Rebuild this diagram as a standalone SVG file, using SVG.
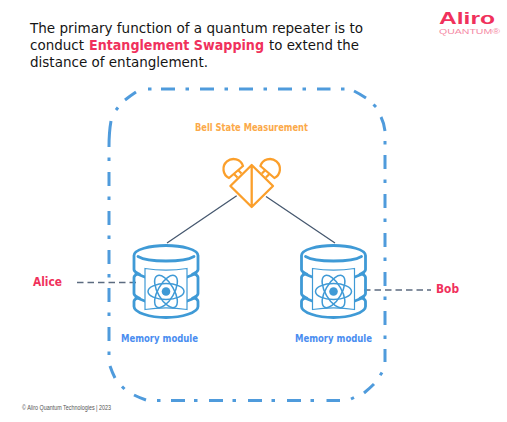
<svg xmlns="http://www.w3.org/2000/svg" width="507" height="422" viewBox="0 0 507 422">
<style>
text{font-family:"DejaVu Sans","Liberation Sans",sans-serif}
.t{font-size:14.400px;fill:#151515}
.s{font-weight:700;fill:#f0315c;font-size:13.300px}
.b{font-weight:700;font-size:10px}
.blue{fill:#4a8df0}
.mem{fill:none;stroke:#3f9ad6;stroke-width:2.800;stroke-linecap:round}
.atom{fill:none;stroke:#3f9ad6;stroke-width:1.500}
.or{fill:none;stroke:#fb9f2b;stroke-width:2.300;stroke-linejoin:round}
.dash{fill:none;stroke:#5c6b80;stroke-width:1.500;stroke-dasharray:6.500 4}
.ln{fill:none;stroke:#46586f;stroke-width:1.300}
.name{font-size:11.500px;font-weight:700;fill:#f0315c}
</style>
<defs>
<g id="db">
<path class="mem" d="M-32-26C-32-32-16-36 0-36S32-32 32-26V-12C32-10 30-9 28-8C30-7 32-6 32-4V12C32 14 30 15 28 16C30 17 32 18 32 20V25C32 31 16 36 0 36S-32 31-32 25V20C-32 18-30 17-28 16C-30 15-32 14-32 12V-4C-32-6-30-7-28-8C-30-9-32-10-32-12Z"/>
<path class="mem" d="M-28-25C-18-19 18-19 28-25"/>
<path class="mem" d="M-30-8L-20-4M30-8L20-4M-30 16L-20 20M30 16L20 20"/>
<path d="M-21-13C-8-11 8-11 21-13V28C8 26-8 26-21 28Z" fill="#fff" stroke="#3f9ad6" stroke-width="1.200"/>
<circle cx="0" cy="10" r="4.300" fill="#3f9ad6"/>
<ellipse class="atom" cx="0" cy="10" rx="18" ry="8"/>
<ellipse class="atom" cx="0" cy="10" rx="18" ry="8" transform="rotate(60 0 10)"/>
<ellipse class="atom" cx="0" cy="10" rx="18" ry="8" transform="rotate(-60 0 10)"/>
</g>
</defs>
<g id="title">
<text class="t" x="30" y="33" textLength="333" lengthAdjust="spacingAndGlyphs">The primary function of a quantum repeater is to</text>
<text class="t" x="30" y="50" textLength="54" lengthAdjust="spacingAndGlyphs">conduct</text>
<text class="t s" x="89" y="50" textLength="175" lengthAdjust="spacingAndGlyphs">Entanglement Swapping</text>
<text class="t" x="269" y="50" textLength="90" lengthAdjust="spacingAndGlyphs">to extend the</text>
<text class="t" x="30" y="67" textLength="178" lengthAdjust="spacingAndGlyphs">distance of entanglement.</text>
</g>
<g id="logo">
<text x="439" y="24" font-size="16.500" font-weight="700" fill="#f0315c" textLength="56" lengthAdjust="spacingAndGlyphs" style="font-family:'Liberation Sans',sans-serif">Aliro</text>
<text x="439" y="33.500" font-size="7" fill="#f58aa5" textLength="61" lengthAdjust="spacingAndGlyphs" style="font-family:'Liberation Sans',sans-serif">QUANTUM®</text>
</g>
<g id="connectors">
<path fill="none" stroke="#4f9bdc" stroke-width="3" d="M148 89h3.500M161 89h14M185.500 89h3.500M200 89h14M224.500 89h3.500M239 89h14M263.500 89h3.500M278 89h14M302.500 89h3.500M317 89h13.500M341 89h3.500M354 91Q360 94 366 98M373.500 104.500l2.500 2.500M381 117Q384 123 385 131M385 141v3.500M385 155v14M385 179.500v3.500M385 194v14M385 218.500v3.500M385 233v14M385 257.500v3.500M385 272v14M385 296.500v3.500M385 311v14M385 335.500v3.500M385 349v13M382 372.500l-1.800 2.800M374 384Q370 388 364 393M354 397.500l-3 1.500M340 400.500h-13.500M314 400.500h-3.500M301 400.500h-14M275 400.500h-3.500M262 400.500h-14M236 400.500h-3.500M223 400.500h-14M197.500 400.500h-3.500M185 400.500h-14M160.500 400.500h-3.500M146 400Q140 398 134 395M124.500 389l-2.500-2.500M115 378Q112 372 110 366M109 355v-3.500M109 341v-14M109 316v-3.500M109 302v-14M109 277.500v-3.500M109 264v-14M109 239v-3.500M109 225v-14M109 200v-3.500M109 186v-14M109 161v-3.500M109 147Q109 132 111 121M116 110l2-2.500M125 100Q130 96 136 92"/>
<path class="ln" d="M236.700 195.700L167 243M266 196.500L335 243"/>
<path class="dash" d="M77 282.500H136"/>
<path class="dash" d="M364 290H431"/>
</g>
<g id="bell">
<text class="b" x="195" y="130.500" fill="#fba949" textLength="113" lengthAdjust="spacingAndGlyphs">Bell State Measurement</text>
<path class="or" d="M251.700 165L273 186L251.700 207L230.400 186ZM251.700 165V207"/>
<path class="or" d="M229 178A10 10 0 1 1 243 166Z"/>
<path class="or" d="M274.400 178A10 10 0 1 0 260.400 166Z"/>
<path class="or" d="M234 174L237.500 177.500M238 170L241.500 173.500M269.400 174L265.900 177.500M265.400 170L261.900 173.500"/>
</g>
<g id="mem-left"><use href="#db" transform="translate(166 281.500)"/><text class="b blue" x="121" y="342" textLength="77" lengthAdjust="spacingAndGlyphs">Memory module</text></g>
<g id="mem-right"><use href="#db" transform="translate(333.500 281.500)"/><text class="b blue" x="295" y="342" textLength="77" lengthAdjust="spacingAndGlyphs">Memory module</text></g>
<g id="alice"><text class="name" x="33" y="286" textLength="29" lengthAdjust="spacingAndGlyphs">Alice</text></g>
<g id="bob"><text class="name" x="436" y="292.500" textLength="23" lengthAdjust="spacingAndGlyphs">Bob</text></g>
<g id="footer"><text x="22" y="410" font-size="6.500" fill="#555" textLength="89" lengthAdjust="spacingAndGlyphs" style="font-family:'Liberation Sans',sans-serif">© Aliro Quantum Technologies  | 2023</text></g>
</svg>
